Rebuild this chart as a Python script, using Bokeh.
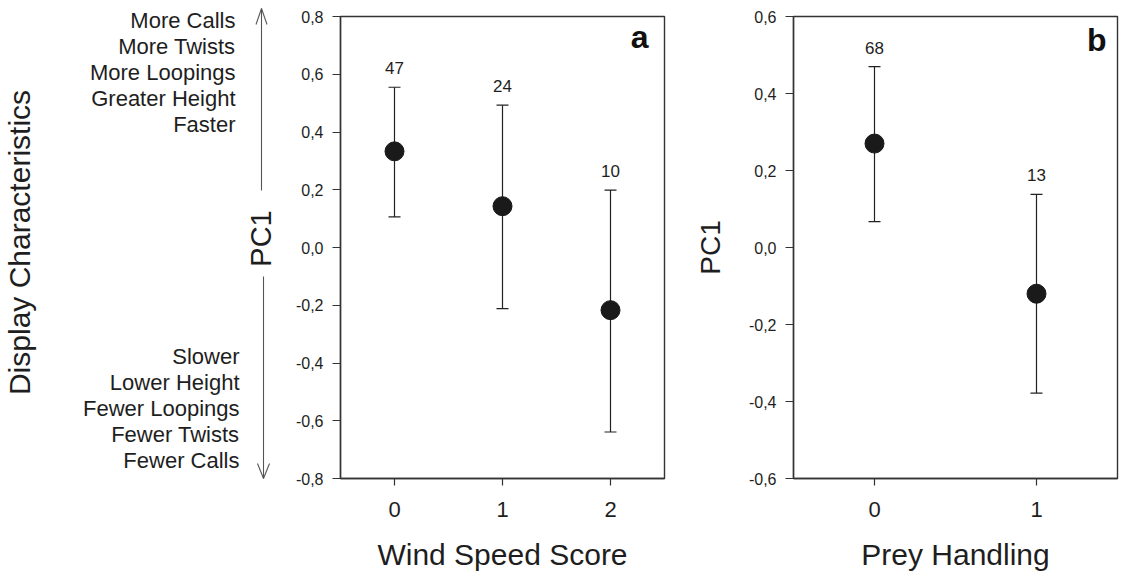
from bokeh.plotting import figure
from bokeh.models import (ColumnDataSource, Range1d, FixedTicker, Whisker, TeeHead, Label, Arrow)
from bokeh.layouts import row
from bokeh.embed import file_html
from bokeh.resources import INLINE
from bokeh.core.properties import value
import math

# ---------------- data ----------------
wind_x = [0, 1, 2]
wind_mean = [0.333, 0.143, -0.217]
wind_upper = [0.555, 0.493, 0.199]
wind_lower = [0.106, -0.212, -0.639]
wind_n = ["47", "24", "10"]
wind_ticklabels = ["0", "1", "2"]

prey_x = [0, 1]
prey_mean = [0.270, -0.120]
prey_upper = [0.470, 0.138]
prey_lower = [0.067, -0.378]
prey_n = ["68", "13"]
prey_ticklabels = ["0", "1"]

yticks_a = [-0.8, -0.6, -0.4, -0.2, 0.0, 0.2, 0.4, 0.6, 0.8]
ylabels_a = ["-0,8", "-0,6", "-0,4", "-0,2", "0,0", "0,2", "0,4", "0,6", "0,8"]
yticks_b = [-0.6, -0.4, -0.2, 0.0, 0.2, 0.4, 0.6]
ylabels_b = ["-0,6", "-0,4", "-0,2", "0,0", "0,2", "0,4", "0,6"]

upper_desc = ["More Calls", "More Twists", "More Loopings", "Greater Height", "Faster"]
lower_desc = ["Slower", "Lower Height", "Fewer Loopings", "Fewer Twists", "Fewer Calls"]

FONT = "Liberation Sans"
TXT = "#1e1e1e"
FRAME = "#333333"

H = 573
TOP, BOT = 16, 94

# ---------------- left annotation strip (pixel coordinates) ----------------
LW = 290
pL = figure(width=LW, height=H, x_range=Range1d(0, LW), y_range=Range1d(H, 0),
            x_axis_type=None, y_axis_type=None, toolbar_location=None,
            output_backend="svg", min_border=0)
pL.frame_align = False
pL.outline_line_color = None
pL.grid.visible = False

pL.add_layout(Label(x=19, y=242, text="Display Characteristics", angle=math.pi / 2,
                    text_align="center", text_baseline="alphabetic",
                    text_font=FONT, text_font_size="30px", text_color=TXT))
for i, t in enumerate(upper_desc):
    pL.add_layout(Label(x=235, y=20 + 26 * i, text=t, text_align="right",
                        text_baseline="middle", text_font=FONT,
                        text_font_size="22px", text_color=TXT))
for i, t in enumerate(lower_desc):
    pL.add_layout(Label(x=239, y=356 + 26 * i, text=t, text_align="right",
                        text_baseline="middle", text_font=FONT,
                        text_font_size="22px", text_color=TXT))
pL.add_layout(Label(x=260, y=238, text="PC1", angle=math.pi / 2,
                    text_align="center", text_baseline="alphabetic",
                    text_font=FONT, text_font_size="29px", text_color=TXT))

ARR = "#555555"
arrow_lines = [
    ((261, 8), (261, 190)),
    ((255.5, 24), (261, 8)),
    ((266.5, 24), (261, 8)),
    ((263, 276), (263, 478)),
    ((257, 463), (263, 478)),
    ((269, 463), (263, 478)),
]
for (xs, ys), (xe, ye) in arrow_lines:
    pL.add_layout(Arrow(x_start=xs, y_start=ys, x_end=xe, y_end=ye, start=None, end=None,
                        line_color=ARR, line_width=1.1))


def style_axes(p, xticks, xlabels, yticks, ylabels, xlabel, ylabel):
    p.grid.visible = False
    p.outline_line_color = FRAME
    p.outline_line_width = 1.4
    p.background_fill_color = "white"
    p.border_fill_color = "white"
    for ax in (p.xaxis[0], p.yaxis[0]):
        ax.axis_line_color = FRAME
        ax.axis_line_width = 1.4
        ax.major_tick_line_color = FRAME
        ax.major_tick_line_width = 1.2
        ax.major_tick_in = 0
        ax.minor_tick_line_color = None
        ax.major_label_text_font = FONT
        ax.major_label_text_color = TXT
        ax.axis_label_text_font = FONT
        ax.axis_label_text_color = TXT
        ax.axis_label_text_font_style = "normal"
    xa = p.xaxis[0]
    xa.ticker = FixedTicker(ticks=xticks)
    xa.major_label_overrides = {t: l for t, l in zip(xticks, xlabels)}
    xa.major_tick_out = 7
    xa.major_label_standoff = 16
    xa.major_label_text_font_size = "22px"
    xa.axis_label = xlabel
    xa.axis_label_text_font_size = "30px"
    xa.axis_label_standoff = 18
    ya = p.yaxis[0]
    ya.ticker = FixedTicker(ticks=yticks)
    ya.major_label_overrides = {t: l for t, l in zip(yticks, ylabels)}
    ya.major_tick_out = 8
    ya.major_label_standoff = 9
    ya.major_label_text_font_size = "16px"
    if ylabel:
        ya.axis_label = ylabel
        ya.axis_label_text_font_size = "28px"
        ya.axis_label_standoff = 20


def draw_points(p, xs, mean, upper, lower, ns):
    src = ColumnDataSource(dict(x=xs, mean=mean, upper=upper, lower=lower, n=ns))
    w = Whisker(base="x", upper="upper", lower="lower", source=src,
                line_color="#222222", line_width=1.2,
                upper_head=TeeHead(size=12, line_color="#222222", line_width=1.2),
                lower_head=TeeHead(size=12, line_color="#222222", line_width=1.2))
    p.add_layout(w)
    p.scatter(x="x", y="mean", source=src, size=19, color="#1a1a1a")
    p.text(x="x", y="upper", text="n", source=src, y_offset=-19,
           text_align="center", text_baseline="alphabetic",
           text_font=value(FONT), text_font_size="17px", text_color=TXT)


# ---------------- panel a ----------------
pA = figure(width=680 - LW, height=H, x_range=Range1d(-0.5, 2.5), y_range=Range1d(-0.8, 0.8),
            toolbar_location=None, output_backend="svg",
            min_border_left=340 - LW, min_border_right=16, min_border_top=TOP, min_border_bottom=BOT)
style_axes(pA, wind_x, wind_ticklabels, yticks_a, ylabels_a, "Wind Speed Score", None)
draw_points(pA, wind_x, wind_mean, wind_upper, wind_lower, wind_n)
pA.text(x=[pA.x_range.end], y=[pA.y_range.end], text=["a"], x_offset=-16, y_offset=20,
        text_align="right", text_baseline="alphabetic", text_font=value(FONT),
        text_font_style="bold", text_font_size="32px", text_color="#111111")

# ---------------- panel b ----------------
pB = figure(width=443, height=H, x_range=Range1d(-0.5, 1.5), y_range=Range1d(-0.6, 0.6),
            toolbar_location=None, output_backend="svg",
            min_border_left=113, min_border_right=6, min_border_top=TOP, min_border_bottom=BOT)
style_axes(pB, prey_x, prey_ticklabels, yticks_b, ylabels_b, "Prey Handling", "PC1")
draw_points(pB, prey_x, prey_mean, prey_upper, prey_lower, prey_n)
pB.text(x=[pB.x_range.end], y=[pB.y_range.end], text=["b"], x_offset=-11, y_offset=23,
        text_align="right", text_baseline="alphabetic", text_font=value(FONT),
        text_font_style="bold", text_font_size="32px", text_color="#111111")

layout = row(pL, pA, pB)
open("out.html", "w").write(file_html(layout, INLINE))
